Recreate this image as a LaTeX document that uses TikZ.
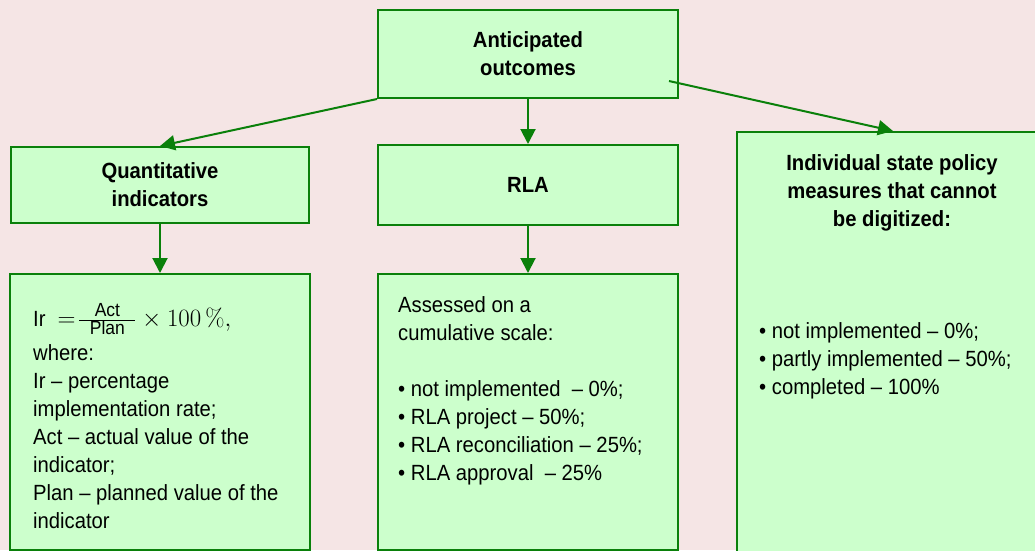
\documentclass[tikz,border=0pt]{standalone}
\usepackage[no-math]{fontspec}
\setmainfont{Liberation Sans}[FakeStretch=0.92]
\usetikzlibrary{arrows.meta}
\definecolor{bgpink}{RGB}{245,229,229}
\definecolor{boxfill}{RGB}{204,255,204}
\definecolor{boxline}{RGB}{10,128,10}
\newcommand{\fs}{\fontsize{22}{28}\selectfont}
\newcommand{\fl}{\rule{0pt}{18pt}}
\newcommand{\fracpart}[1]{\hbox to 56pt{\hss\fontsize{19}{19}\selectfont #1\hss}}
\begin{document}
\begin{tikzpicture}[x=1pt,y=-1pt,
  box/.style={draw=boxline, fill=boxfill, line width=2pt, inner sep=0pt, anchor=north west},
  ttl/.style={font=\fs\bfseries, align=center},
  txt/.style={font=\fs, align=left, inner sep=0pt, anchor=north west},
  conn/.style={draw=boxline, line width=2pt, -{Triangle[length=15pt,width=15pt]}}]
\useasboundingbox (0,0) rectangle (1035,550);
\fill[bgpink] (0,0) rectangle (1035,550);
\clip (0,0) rectangle (1035,550);
% boxes
\node[box, ttl, minimum width=300pt, minimum height=88pt] (top) at (377,9) {Anticipated\\outcomes};
\node[box, ttl, minimum width=298pt, minimum height=76pt] (quant) at (10,146) {Quantitative\\indicators};
\node[box, ttl, minimum width=300pt, minimum height=80pt] (rla) at (377,144) {RLA};
\node[box, minimum width=300pt, minimum height=276pt] (qbox) at (9,273) {};
\node[box, minimum width=300pt, minimum height=276pt] (rbox) at (377,273) {};
\node[box, minimum width=312pt, minimum height=450pt] (sbox) at (736,131) {};
% connectors
\coordinate (tr) at (669,81);
\draw[conn] (top.south west) -- (quant.north);
\draw[conn] (top.south) -- (rla.north);
\draw[conn] (tr) -- (sbox.north);
\draw[conn] (quant.south) -- (qbox.north);
\draw[conn] (rla.south) -- (rbox.north);
% texts
\node[anchor=base west, inner sep=0pt, font=\fontsize{24.88}{28}\selectfont] (formula) at (33,326)
  {{\fs Ir}\hspace{12pt}$=\!\frac{\fracpart{Act}}{\fracpart{Plan}}\times 100\,\%,$};
\node[txt] (qtext) at (33,342) {\fl where:\\Ir – percentage\\implementation rate;\\Act – actual value of the\\indicator;\\Plan – planned value of the\\indicator};
\node[txt] (rtext) at (398,294) {\fl Assessed on a\\cumulative scale:\\[28pt]\textbullet{} not implemented\ \ – 0\%;\\\textbullet{} RLA project – 50\%;\\\textbullet{} RLA reconciliation – 25\%;\\\textbullet{} RLA approval\ \ – 25\%};
\node[ttl, anchor=north, inner sep=0pt] (stitle) at (892,152) {\fl Individual state policy\\measures that cannot\\be digitized:};
\node[txt] (slist) at (759,320) {\fl\textbullet{} not implemented – 0\%;\\\textbullet{} partly implemented – 50\%;\\\textbullet{} completed – 100\%};
\end{tikzpicture}
\end{document}
